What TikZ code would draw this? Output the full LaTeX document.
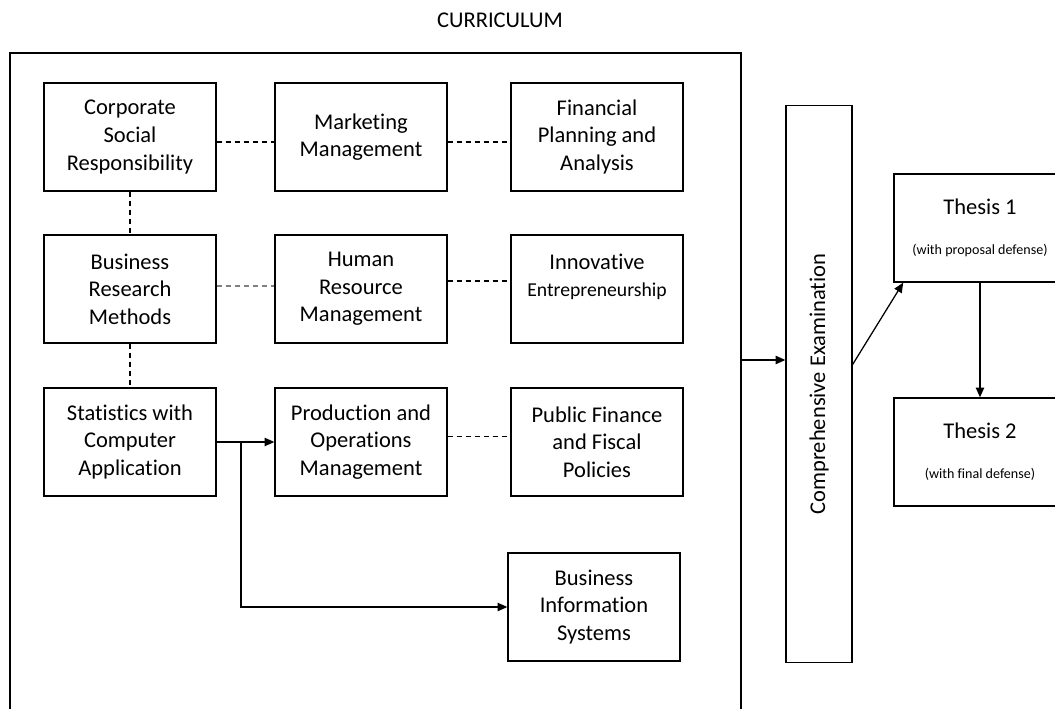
\documentclass[tikz,border=0pt]{standalone}
\usepackage{fontspec}
\setmainfont{Carlito}[Ligatures=NoCommon]
\usepackage{graphicx}
\usetikzlibrary{arrows.meta, positioning, calc}

\tikzset{
  coursebox/.style={draw, line width=0.9pt, minimum width=4.3cm, minimum height=2.7cm, align=center, inner sep=2pt, font=\fontsize{16}{19.6}\selectfont},
  dashlink/.style={dash pattern=on 3.6pt off 2.8pt, line width=0.8pt},
  flowarrow/.style={-{Triangle[length=7pt,width=6pt]}, line width=0.9pt},
}
\newcommand{\defnote}[1]{{\fontsize{10}{12}\selectfont #1}}

\begin{document}
\begin{tikzpicture}[x=0.025cm, y=-0.025cm]
  \useasboundingbox (0,0) rectangle (1055,709);
  \clip (0,0) rectangle (1055,709);

  % Title and frame
  \node[font=\fontsize{16}{19.6}\selectfont] (title) at (500,20) {CURRICULUM};
  \draw[line width=0.9pt] (10,720) -- (10,53) -- (741,53) -- (741,720);

  % First row
  \node[coursebox] (csr) at (130,137) {Corporate\\Social\\Responsibility};
  \node[coursebox] (mkt) at (361,137) {Marketing\\Management};
  \node[coursebox] (fin) at (597,137) {Financial\\Planning and\\Analysis};

  % Second row
  \node[coursebox] (brm) at (130,289) {Business\\Research\\Methods};
  \node[coursebox] (hrm) at (361,289) {Human\\Resource\\Management};
  \node[coursebox] (ine) at (597,289) {Innovative\\{\fontsize{14}{17}\selectfont Entrepreneurship}\\\mbox{}};

  % Third row
  \node[coursebox] (sca) at (130,442) {Statistics with\\Computer\\Application};
  \node[coursebox] (pom) at (361,442) {Production and\\Operations\\Management};
  \node[coursebox] (pff) at (597,442) {Public Finance\\and Fiscal\\Policies};

  \node[coursebox] (bis) at (594,607) {Business\\Information\\Systems};

  % Exam and thesis
  \node[coursebox, minimum width=1.65cm, minimum height=13.925cm] (comp) at (819,384) {\rotatebox{90}{Comprehensive Examination}};
  \node[coursebox] (th1) at (980,228) {Thesis 1\\[9pt]\defnote{(with proposal defense)}};
  \node[coursebox] (th2) at (980,452) {Thesis 2\\[9pt]\defnote{(with final defense)}};

  % Dashed links
  \draw[dashlink] ([yshift=-3.6pt]csr.east) -- ([yshift=-3.6pt]mkt.west);
  \draw[dashlink] ([yshift=-3.6pt]mkt.east) -- ([yshift=-3.6pt]fin.west);
  \draw[dashlink, gray] ([yshift=2.1pt]brm.east) -- ([yshift=2.1pt]hrm.west);
  \draw[dashlink] ([yshift=5.7pt]hrm.east) -- ([yshift=5.7pt]ine.west);
  \draw[dashlink] ([yshift=3.9pt]pom.east) -- ([yshift=3.9pt]pff.west);
  \draw[dashlink] (csr) -- (brm);
  \draw[dashlink] (brm) -- (sca);

  % Arrows
  \draw[flowarrow] (sca) -- (pom);
  \coordinate (split) at (241,442);
  \draw[flowarrow] (split) |- (bis);
  \coordinate (frameout) at (741,360);
  \draw[flowarrow] (frameout) -- (frameout -| comp.west);
  \draw[flowarrow] ([yshift=13.9pt]comp.east) -- ([xshift=7pt]th1.south west);
  \draw[flowarrow] (th1) -- (th2);
\end{tikzpicture}
\end{document}
